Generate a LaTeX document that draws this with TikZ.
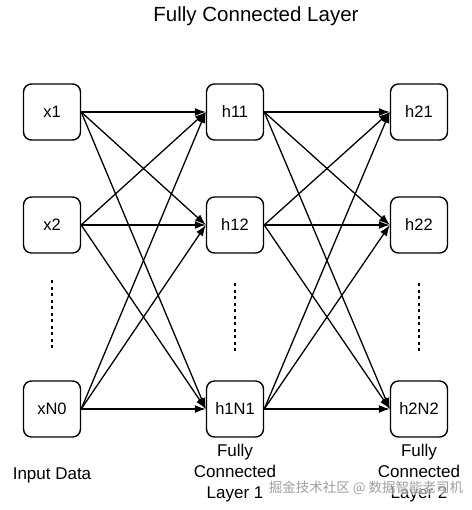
\documentclass[tikz,border=0pt]{standalone}
\usepackage{fontspec}
\setmainfont{Liberation Sans}
\newfontfamily\cjkfont{Noto Sans CJK SC}
\usetikzlibrary{arrows.meta}
\begin{document}
\begin{tikzpicture}[x=1pt,y=-1pt,
  neuron/.style={draw,line width=1.4pt,rounded corners=8pt,minimum width=57pt,minimum height=56pt,inner sep=0pt,font=\fontsize{16.5}{20}\selectfont},
  conn/.style={line width=1.3pt,-{Latex[length=11pt,width=8pt]}},
  dotsline/.style={line width=1.8pt,dash pattern=on 3pt off 3.5pt},
  lbl/.style={font=\fontsize{17}{21}\selectfont,align=center}]
\useasboundingbox (0,0) rectangle (471,510);
\fill[white] (0,0) rectangle (471,510);
\node[font=\fontsize{20.5}{24}\selectfont,anchor=base] (title) at (256,22) {Fully Connected Layer};
% input column
\node[neuron] (x1) at (52,112) {x1};
\node[neuron] (x2) at (52,225) {x2};
\node[neuron] (xN) at (52,409) {xN0};
% hidden 1
\node[neuron] (h11) at (235,112) {h11};
\node[neuron] (h12) at (235,225) {h12};
\node[neuron] (h1N) at (235,409) {h1N1};
% hidden 2
\node[neuron] (h21) at (419,112) {h21};
\node[neuron] (h22) at (419,225) {h22};
\node[neuron] (h2N) at (419,409) {h2N2};
% connections
\foreach \s in {x1,x2,xN}{
  \foreach \t in {h11,h12,h1N}{
    \draw[conn] (\s.east) -- (\t.west);
  }
}
\foreach \s in {h11,h12,h1N}{
  \foreach \t in {h21,h22,h2N}{
    \draw[conn] (\s.east) -- (\t.west);
  }
}
% dots
\coordinate (d0a) at (52,280); \coordinate (d0b) at (52,350);
\coordinate (d1a) at (235,283); \coordinate (d1b) at (235,353);
\coordinate (d2a) at (419,283); \coordinate (d2b) at (419,353);
\draw[dotsline] (d0a) -- (d0b);
\draw[dotsline] (d1a) -- (d1b);
\draw[dotsline] (d2a) -- (d2b);
% labels
\node[lbl] (lin) at (52,475) {Input Data};
\node[lbl] (l1) at (235,473) {Fully\\Connected\\Layer 1};
\node[lbl] (l2) at (419,473) {Fully\\Connected\\Layer 2};
\node[font=\cjkfont\fontsize{13.5}{16}\selectfont,text=gray!75,fill=white,fill opacity=0.5,text opacity=1,inner sep=0pt] (wm) at (366,488) {掘金技术社区 @ 数据智能老司机};
\end{tikzpicture}
\end{document}
